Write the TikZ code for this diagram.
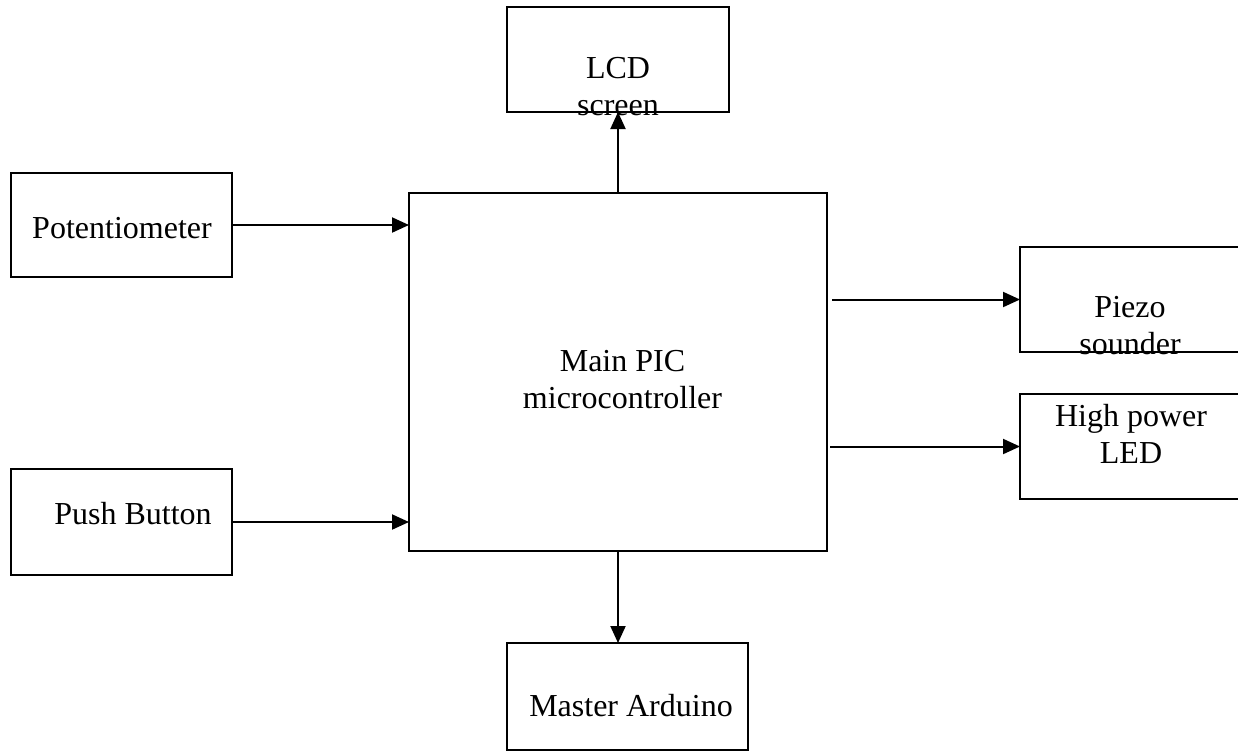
\documentclass[tikz,border=0pt]{standalone}
\usepackage{fontspec}
\setmainfont{Liberation Serif}
\usetikzlibrary{arrows.meta}
\begin{document}
\begin{tikzpicture}[x=1pt,y=-1pt,
  blk/.style={draw,line width=2pt,inner sep=0pt,outer sep=0pt,rectangle},
  lbl/.style={font=\fontsize{32}{36.5}\selectfont,inner sep=0pt,align=center,anchor=base},
  arr/.style={line width=2pt,-{Triangle[length=17pt,width=15pt]}}]
\useasboundingbox (0,0) rectangle (1238,753);
\clip (0,0) rectangle (1238,753);
\fill[white] (0,0) rectangle (1238,753);

% blocks
\node[blk,minimum width=222pt,minimum height=105pt] (lcd)    at (618,59.5) {};
\node[blk,minimum width=221pt,minimum height=104pt] (pot)    at (121.5,225) {};
\node[blk,minimum width=418pt,minimum height=358pt] (main)   at (618,372) {};
\node[blk,minimum width=230pt,minimum height=105pt] (piezo)  at (1135,299.5) {};
\node[blk,minimum width=230pt,minimum height=105pt] (led)    at (1135,446.5) {};
\node[blk,minimum width=221pt,minimum height=106pt] (push)   at (121.5,522) {};
\node[blk,minimum width=241pt,minimum height=107pt] (master) at (627.5,696.5) {};

% labels (base anchor sits on the last line)
\node[lbl] (lcdtxt)    at (618,115)   {LCD\\screen};
\node[lbl] (pottxt)    at (122,238)   {Potentiometer};
\node[lbl] (maintxt)   at (622.5,408) {Main PIC\\microcontroller};
\node[lbl] (piezotxt)  at (1130,354)  {Piezo\\sounder};
\node[lbl] (ledtxt)    at (1131,463)  {High power\\LED};
\node[lbl] (pushtxt)   at (133,524)   {Push Button};
\node[lbl] (mastertxt) at (631,716)   {Master Arduino};

% connections
\draw[arr] (main.north) -- (lcd.south);
\draw[arr] (pot.east) -- (main.west |- pot.east);
\draw[arr] (push.east) -- (main.west |- push.east);
\draw[arr,shorten <=5pt] (main.east |- piezo.west) -- (piezo.west);
\draw[arr,shorten <=3pt] (main.east |- led.west) -- (led.west);
\draw[arr] (main.south) -- (main.south |- master.north);
\end{tikzpicture}
\end{document}
